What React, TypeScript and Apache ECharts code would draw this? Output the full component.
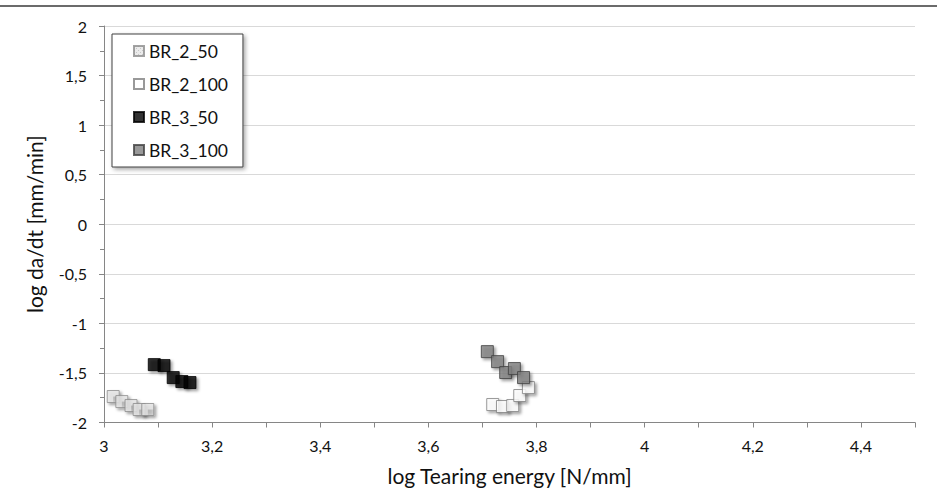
import React, { useEffect, useRef } from "react";
import * as echarts from "echarts";

const seriesNames = ["BR_2_50", "BR_2_100", "BR_3_50", "BR_3_100"];
const br2_50_x = [3.017, 3.033, 3.05, 3.065, 3.081];
const br2_50_y = [-1.738, -1.789, -1.829, -1.869, -1.869];
const br2_100_x = [3.719, 3.737, 3.756, 3.769, 3.785];
const br2_100_y = [-1.819, -1.839, -1.829, -1.728, -1.648];
const br3_50_x = [3.093, 3.111, 3.128, 3.144, 3.159];
const br3_50_y = [-1.416, -1.426, -1.547, -1.587, -1.597];
const br3_100_x = [3.709, 3.728, 3.743, 3.759, 3.776];
const br3_100_y = [-1.285, -1.386, -1.496, -1.456, -1.547];

const xName = "log Tearing energy [N/mm]";
const yName = "log da/dt [mm/min]";

const pair = (xs: number[], ys: number[]) => xs.map((x, i) => [x, ys[i]]);

function makePattern(): any {
  const c = document.createElement("canvas");
  c.width = 4;
  c.height = 4;
  const ctx = c.getContext("2d");
  if (!ctx) return "#dcdcdc";
  ctx.fillStyle = "#e6e6e6";
  ctx.fillRect(0, 0, 4, 4);
  ctx.fillStyle = "#b8b8b8";
  ctx.fillRect(0, 0, 1, 1);
  ctx.fillRect(2, 2, 1, 1);
  return { image: c, repeat: "repeat" };
}

const fmt = (v: number) => String(Math.round(v * 10) / 10).replace(".", ",");

export default function App() {
  const ref = useRef<HTMLDivElement>(null);
  useEffect(() => {
    document.body.style.margin = "0";
    const chart = echarts.init(ref.current!, undefined, { renderer: "svg" });
    const shadow = {
      shadowBlur: 3,
      shadowOffsetX: 2,
      shadowOffsetY: 2,
      shadowColor: "rgba(0,0,0,0.45)",
    };
    const styles = [
      { color: makePattern(), borderColor: "#8c8c8c", borderWidth: 1, ...shadow },
      { color: "#ffffff", borderColor: "#7f7f7f", borderWidth: 1, ...shadow },
      { color: "#000000", borderColor: "#000000", borderWidth: 1, ...shadow },
      { color: "#7f7f7f", borderColor: "#404040", borderWidth: 1, ...shadow },
    ];
    const datas = [
      pair(br2_50_x, br2_50_y),
      pair(br2_100_x, br2_100_y),
      pair(br3_50_x, br3_50_y),
      pair(br3_100_x, br3_100_y),
    ];
    const font = "Lato, 'Open Sans', sans-serif";
    chart.setOption({
      animation: false,
      backgroundColor: "#ffffff",
      textStyle: { fontFamily: font },
      grid: { left: 104, top: 26, width: 811, height: 397, containLabel: false },
      graphic: [
        {
          type: "line",
          shape: { x1: 0, y1: 6, x2: 937, y2: 6 },
          style: { stroke: "#6b6b6b", lineWidth: 2 },
        },
      ],
      legend: {
        orient: "vertical",
        left: 112,
        top: 34,
        padding: [7, 15, 7, 21],
        itemWidth: 10,
        itemHeight: 10,
        itemGap: 13,
        icon: "rect",
        backgroundColor: "#ffffff",
        borderColor: "#404040",
        borderWidth: 1,
        borderRadius: 0,
        shadowBlur: 4,
        shadowOffsetX: 2,
        shadowOffsetY: 2,
        shadowColor: "rgba(0,0,0,0.35)",
        textStyle: { fontFamily: font, fontSize: 17.5, lineHeight: 20, color: "#111" },
        data: seriesNames,
      },
      xAxis: {
        type: "value",
        min: 3,
        max: 4.5,
        interval: 0.1,
        name: xName,
        nameLocation: "middle",
        nameGap: 53,
        nameTextStyle: { fontFamily: font, fontSize: 21, color: "#111", verticalAlign: "middle" },
        axisLine: { show: true, onZero: false, lineStyle: { color: "#868686", width: 1 } },
        axisTick: { show: true, length: 5, lineStyle: { color: "#868686" } },
        axisLabel: {
          margin: 15,
          fontFamily: font,
          fontSize: 16,
          color: "#111",
          formatter: (v: number) => (Math.round(v * 10) % 2 === 0 ? fmt(v) : ""),
        },
        splitLine: { show: false },
      },
      yAxis: {
        type: "value",
        min: -2,
        max: 2,
        interval: 0.5,
        name: yName,
        nameLocation: "middle",
        nameGap: 70,
        nameTextStyle: { fontFamily: font, fontSize: 21, color: "#111", verticalAlign: "middle" },
        axisLine: { show: true, onZero: false, lineStyle: { color: "#868686", width: 1 } },
        axisTick: { show: true, length: 5, lineStyle: { color: "#868686" } },
        minorTick: { show: true, splitNumber: 2, length: 4, lineStyle: { color: "#868686" } },
        axisLabel: { margin: 17, fontFamily: font, fontSize: 16, color: "#111", formatter: fmt },
        splitLine: { show: true, lineStyle: { color: "#d9d9d9", width: 1 } },
      },
      series: seriesNames.map((n, i) => ({
        name: n,
        type: "scatter",
        symbol: "rect",
        symbolSize: 12,
        itemStyle: styles[i],
        data: datas[i],
      })),
    });
    return () => chart.dispose();
  }, []);
  return (
    <div
      ref={ref}
      style={{ position: "fixed", left: 0, top: 0, width: 937, height: 491, background: "#fff" }}
    />
  );
}
